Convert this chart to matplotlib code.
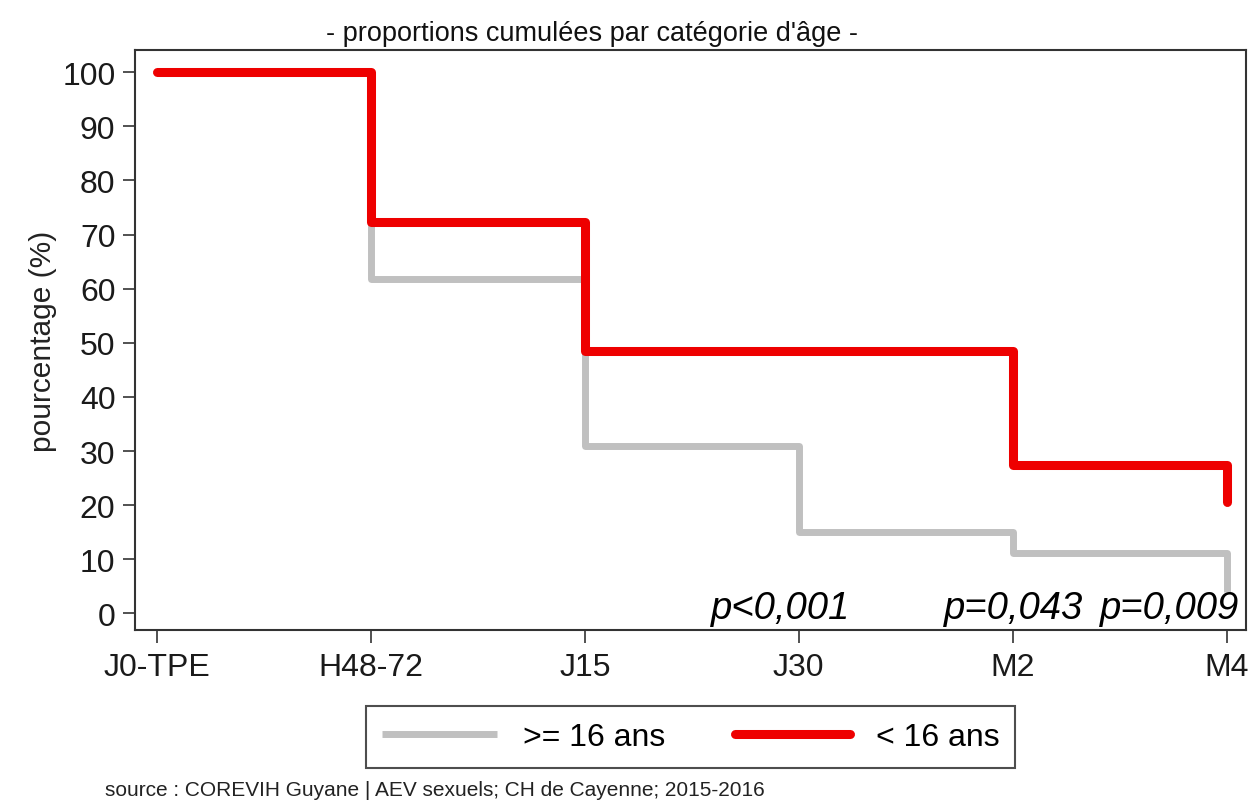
import numpy as np
import matplotlib
matplotlib.use('Agg')
import matplotlib.pyplot as plt

plt.rcParams['font.family'] = ['Liberation Sans', 'DejaVu Sans']

# données
periodes = ['J0-TPE', 'H48-72', 'J15', 'J30', 'M2', 'M4']
adultes = [100, 61.8, 31.0, 15.0, 11.2, 4.0]     # >= 16 ans
mineurs = [100, 72.4, 48.4, 48.4, 27.4, 20.5]    # < 16 ans
p_labels = ['p<0,001', 'p=0,043', 'p=0,009']
p_pos = [3.24, 4.33, 5.06]

fig = plt.figure(figsize=(12.49, 8.03), dpi=100)
ax = fig.add_axes([0.108, 0.214, 0.8895, 0.7225])

x = np.arange(len(periodes))
ax.step(x, adultes, where='post', color='#c0c0c0', lw=5,
        solid_capstyle='butt', label='>= 16 ans')
ax.step(x, mineurs, where='post', color='#ee0000', lw=6.5,
        solid_capstyle='round', label='< 16 ans')

ax.set_xlim(-0.103, 5.09)
ax.set_ylim(-3.1, 104.1)
ax.set_xticks(x)
ax.set_xticklabels(periodes)
ax.set_yticks(range(0, 101, 10))
ax.tick_params(axis='both', labelsize=23, direction='out', length=9, width=1.2,
               color='#333333', labelcolor='#1a1a1a')
ax.tick_params(axis='x', pad=7)
ax.tick_params(axis='y', pad=5)
ax.set_ylabel('pourcentage (%)', fontsize=21.5, labelpad=4, color='#222222')
for s in ax.spines.values():
    s.set_color('#333333')
    s.set_linewidth(1.5)

for lab, px in zip(p_labels, p_pos):
    ax.text(px, -0.8, lab, ha='right', va='baseline', fontsize=27.5,
            style='italic', color='black')

fig.text(0.474, 0.958, "- proportions cumulées par catégorie d'âge -",
         ha='center', va='center', fontsize=19.5, color='#111111')

leg = fig.legend(loc='center', bbox_to_anchor=(0.553, 0.081), ncol=2,
                 fontsize=23, frameon=True, fancybox=False, handlelength=3.6,
                 columnspacing=2.2, handletextpad=0.8, borderpad=0.5)
leg.get_frame().set_edgecolor('#222222')
leg.get_frame().set_linewidth(1.5)

fig.text(0.084, 0.016, 'source : COREVIH Guyane | AEV sexuels; CH de Cayenne; 2015-2016',
         fontsize=15, color='#222222', ha='left', va='center')

fig.savefig('out.png', dpi=100)
